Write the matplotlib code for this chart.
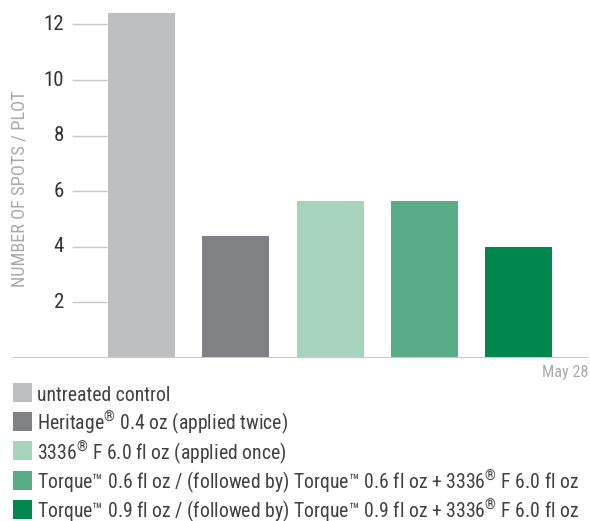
import matplotlib
matplotlib.use("Agg")
import matplotlib.pyplot as plt
from matplotlib.patches import Rectangle

FONT = ['Roboto Condensed', 'DejaVu Sans']
plt.rcParams['font.family'] = FONT
plt.rcParams['mathtext.fontset'] = 'custom'
plt.rcParams['mathtext.rm'] = 'Roboto Condensed'
plt.rcParams['mathtext.it'] = 'Roboto Condensed'
plt.rcParams['mathtext.bf'] = 'Roboto Condensed'

categories = [
    "untreated control",
    "Heritage$^{®}$ 0.4 oz (applied twice)",
    "3336$^{®}$ F 6.0 fl oz (applied once)",
    "Torque™ 0.6 fl oz / (followed by) Torque™ 0.6 fl oz + 3336$^{®}$ F 6.0 fl oz",
    "Torque™ 0.9 fl oz / (followed by) Torque™ 0.9 fl oz + 3336$^{®}$ F 6.0 fl oz",
]
values = [12.4, 4.4, 5.65, 5.65, 4.0]
colors = ["#bdbec0", "#808184", "#a7d3bd", "#58ad88", "#00864f"]
yticks = [2, 4, 6, 8, 10, 12]
xlabel = "May 28"
ylabel = "NUMBER OF SPOTS / PLOT"

W, H = 590, 521
fig = plt.figure(figsize=(W / 100, H / 100), dpi=100)
ax = fig.add_axes([13 / W, (H - 358) / H, (588 - 13) / W, 358 / H])

pitch = 94.25
x0 = 141.5
xs = list(range(len(values)))
ax.bar(xs, values, width=67 / pitch, color=colors, zorder=2)
ax.set_xlim((13 - x0) / pitch, (588 - x0) / pitch)
ax.set_ylim(0, 358 / 27.8)

for s in ax.spines.values():
    s.set_visible(False)
ax.axhline(0, color="#c7c8ca", lw=1.5, zorder=3)
ax.set_xticks([])
ax.set_yticks([])

# short tick lines and labels
ax.hlines(yticks, (72 - x0) / pitch, (107 - x0) / pitch, color="#c7c8ca", lw=1)
for t in yticks:
    ax.text((64 - x0) / pitch, t, str(t), ha="right", va="center",
            fontsize=15, color="#333333")

ax.text((20 - x0) / pitch, 6.08, ylabel, rotation=90, ha="center", va="center",
        fontsize=13.2, color="#a7a9ac")

fig.text(588 / W, 1 - 373 / H, xlabel, ha="right", va="center",
         fontsize=11.6, color="#a7a9ac")

# legend, laid out in figure pixels
for i, (lab, c) in enumerate(zip(categories, colors)):
    top = 383 + i * 29.2
    fig.add_artist(Rectangle((13 / W, 1 - (top + 19) / H), 19 / W, 19 / H,
                             facecolor=c, edgecolor="none",
                             transform=fig.transFigure))
    fig.text(37 / W, 1 - (top + 18) / H, lab, ha="left", va="baseline",
             fontsize=14.2, color="#414042")

fig.savefig("out.png", dpi=100)
